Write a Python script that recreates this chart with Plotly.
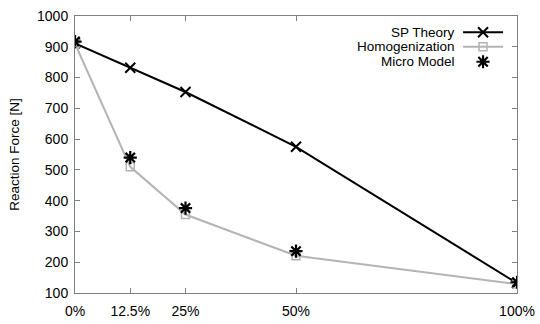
import plotly.graph_objects as go

# Fibre volume fraction (%) and measured / predicted reaction forces [N]
x_pct = [0, 12.5, 25, 50, 100]
tick_labels = ["0%", "12.5%", "25%", "50%", "100%"]
sp_theory = [911, 832, 753, 575, 132]
homogenization = [910, 510, 355, 221, 129]
micro_model = [917, 540, 376, 236, 135]

BLACK = "#000000"
GRAY = "#b4b4b4"
AXIS = "#808080"
FONT = "Liberation Sans, Arial, sans-serif"

W, H = 540, 324
M = dict(l=74.5, r=23, t=15.7, b=31)

fig = go.Figure()

fig.add_trace(go.Scatter(
    x=x_pct, y=sp_theory, mode="lines+markers", name="SP Theory",
    line=dict(color=BLACK, width=2),
    marker=dict(symbol="x-thin-open", size=10, color=BLACK, line=dict(width=2, color=BLACK)),
))
fig.add_trace(go.Scatter(
    x=x_pct, y=homogenization, mode="lines+markers", name="Homogenization",
    line=dict(color=GRAY, width=2),
    marker=dict(symbol="square-open", size=8, color=GRAY, line=dict(width=1.5, color=GRAY)),
))
fig.add_trace(go.Scatter(
    x=x_pct, y=micro_model, mode="markers", name="Micro Model",
    marker=dict(symbol="asterisk-open", size=11, color=BLACK, line=dict(width=2.2, color=BLACK)),
))

# Key drawn in the top-right corner: label right-aligned, sample to its right
plot_w = W - M["l"] - M["r"]
plot_h = H - M["t"] - M["b"]
def px_x(p):
    return (p - M["l"]) / plot_w
def px_y(p):
    return (H - M["b"] - p) / plot_h

key_rows = [
    ("SP Theory", 32.0, dict(color=BLACK, width=2), dict(symbol="x-thin-open", size=10, color=BLACK, line=dict(width=2, color=BLACK)), True),
    ("Homogenization", 46.5, dict(color=GRAY, width=2), dict(symbol="square-open", size=8, color=GRAY, line=dict(width=1.5, color=GRAY)), True),
    ("Micro Model", 61.5, dict(color=BLACK, width=2), dict(symbol="asterisk-open", size=11, color=BLACK, line=dict(width=2.2, color=BLACK)), False),
]
x0, x1, xm, xt = px_x(463), px_x(503), px_x(483), px_x(456)
for label, ypx, ln, mk, has_line in key_rows:
    yy = px_y(ypx)
    if has_line:
        fig.add_trace(go.Scatter(x=[x0, x1], y=[yy, yy], mode="lines", line=ln,
                                 xaxis="x2", yaxis="y2", showlegend=False, hoverinfo="skip"))
    fig.add_trace(go.Scatter(x=[xm], y=[yy], mode="markers", marker=mk,
                             xaxis="x2", yaxis="y2", showlegend=False, hoverinfo="skip"))
    fig.add_annotation(x=xt, y=yy, xref="paper", yref="paper", text=label,
                       showarrow=False, xanchor="right", yanchor="middle",
                       borderpad=0,
                       font=dict(family=FONT, size=13.5, color=BLACK))

fig.update_layout(
    width=W, height=H, margin=M,
    paper_bgcolor="white", plot_bgcolor="white",
    showlegend=False,
    font=dict(family=FONT, size=14, color=BLACK),
    xaxis=dict(
        range=[0, 100], tickmode="array", tickvals=x_pct, ticktext=tick_labels,
        showgrid=False, zeroline=False, showline=True, linecolor=AXIS, linewidth=1,
        mirror="ticks", ticks="inside", ticklen=5, tickcolor=AXIS,
        tickfont=dict(family=FONT, size=14, color=BLACK),
        ticklabelstandoff=5, automargin=False,
    ),
    yaxis=dict(
        range=[100, 1000], dtick=100,
        showgrid=False, zeroline=False, showline=True, linecolor=AXIS, linewidth=1,
        mirror="ticks", ticks="inside", ticklen=5, tickcolor=AXIS,
        tickfont=dict(family=FONT, size=14, color=BLACK),
        ticklabelstandoff=3, automargin=False,
        title=dict(text="Reaction Force [N]", font=dict(family=FONT, size=13.5, color=BLACK), standoff=14),
    ),
    xaxis2=dict(overlaying="x", range=[0, 1], visible=False, fixedrange=True),
    yaxis2=dict(overlaying="y", range=[0, 1], visible=False, fixedrange=True),
)

fig.write_html("out.html")
